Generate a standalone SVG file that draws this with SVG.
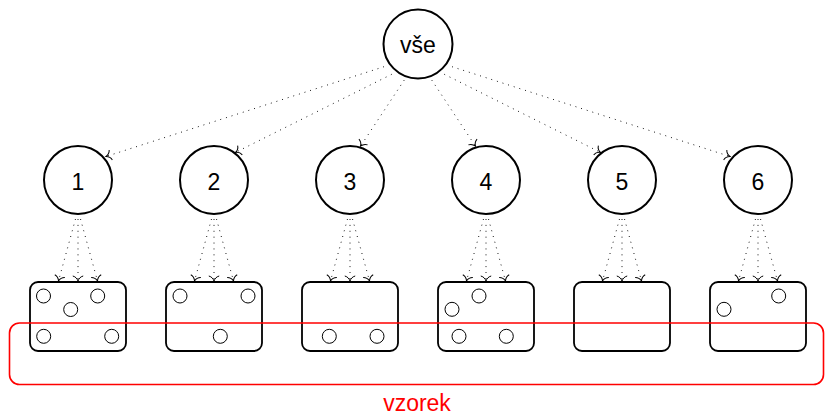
<svg xmlns="http://www.w3.org/2000/svg" width="825" height="416" viewBox="0 0 825 416">
  <defs>
    <marker id="tip" markerUnits="userSpaceOnUse" markerWidth="14" markerHeight="14" viewBox="-7 -7 14 14" refX="0" refY="0" orient="auto" overflow="visible">
      <path d="M -5 -5.2 C -4.3 -2.3 -2.1 -0.7 0 0 C -2.1 0.7 -4.3 2.3 -5 5.2" fill="none" stroke="#000" stroke-width="1"/>
    </marker>
  </defs>
  <style>
    .node { fill: #fff; stroke: #000; stroke-width: 2; }
    .box { fill: #fff; stroke: #000; stroke-width: 1.8; }
    .item { fill: none; stroke: #000; stroke-width: 1; }
    .label { font-family: "Liberation Sans", "DejaVu Sans", sans-serif; font-size: 23px; fill: #000; text-anchor: middle; }
    .edge { fill: none; stroke: #000; stroke-width: 1; stroke-dasharray: 0.9 5; marker-end: url(#tip); }
    .sample { fill: none; stroke: #ff0000; stroke-width: 1.6; }
    .sample-label { font-family: "Liberation Sans", "DejaVu Sans", sans-serif; font-size: 23px; fill: #ff0000; text-anchor: middle; }
  </style>

  <!-- connectors -->
  <g id="connectors">
    <!-- root to groups -->
    <line class="edge" x1="384" y1="66.7" x2="106" y2="156.5"/>
    <line class="edge" x1="391.7" y1="74.3" x2="235.5" y2="152.4"/>
    <line class="edge" x1="404.3" y1="80" x2="360.5" y2="146.2"/>
    <line class="edge" x1="431.7" y1="80" x2="475.5" y2="146.2"/>
    <line class="edge" x1="444.3" y1="74.3" x2="600.5" y2="152.4"/>
    <line class="edge" x1="452" y1="66.7" x2="730" y2="156.5"/>
    <!-- groups to boxes -->
    <g id="fan-1">
      <line class="edge" x1="75.5" y1="219" x2="58.5" y2="281"/>
      <line class="edge" x1="78" y1="219" x2="78" y2="281"/>
      <line class="edge" x1="80.5" y1="219" x2="97.5" y2="281"/>
    </g>
    <g id="fan-2">
      <line class="edge" x1="211.5" y1="219" x2="194.5" y2="281"/>
      <line class="edge" x1="214" y1="219" x2="214" y2="281"/>
      <line class="edge" x1="216.5" y1="219" x2="233.5" y2="281"/>
    </g>
    <g id="fan-3">
      <line class="edge" x1="347.5" y1="219" x2="330.5" y2="281"/>
      <line class="edge" x1="350" y1="219" x2="350" y2="281"/>
      <line class="edge" x1="352.5" y1="219" x2="369.5" y2="281"/>
    </g>
    <g id="fan-4">
      <line class="edge" x1="483.5" y1="219" x2="466.5" y2="281"/>
      <line class="edge" x1="486" y1="219" x2="486" y2="281"/>
      <line class="edge" x1="488.5" y1="219" x2="505.5" y2="281"/>
    </g>
    <g id="fan-5">
      <line class="edge" x1="619.5" y1="219" x2="602.5" y2="281"/>
      <line class="edge" x1="622" y1="219" x2="622" y2="281"/>
      <line class="edge" x1="624.5" y1="219" x2="641.5" y2="281"/>
    </g>
    <g id="fan-6">
      <line class="edge" x1="755.5" y1="219" x2="738.5" y2="281"/>
      <line class="edge" x1="758" y1="219" x2="758" y2="281"/>
      <line class="edge" x1="760.5" y1="219" x2="777.5" y2="281"/>
    </g>
  </g>

  <!-- root -->
  <g id="root">
    <circle class="node" cx="418" cy="44" r="34.5"/>
    <text class="label" x="418" y="53">vše</text>
  </g>

  <!-- groups -->
  <g id="group-1">
    <circle class="node" cx="78" cy="180" r="34"/>
    <text class="label" x="78" y="190">1</text>
  </g>
  <g id="group-2">
    <circle class="node" cx="214" cy="180" r="34"/>
    <text class="label" x="214" y="190">2</text>
  </g>
  <g id="group-3">
    <circle class="node" cx="350" cy="180" r="34"/>
    <text class="label" x="350" y="190">3</text>
  </g>
  <g id="group-4">
    <circle class="node" cx="486" cy="180" r="34"/>
    <text class="label" x="486" y="190">4</text>
  </g>
  <g id="group-5">
    <circle class="node" cx="622" cy="180" r="34"/>
    <text class="label" x="622" y="190">5</text>
  </g>
  <g id="group-6">
    <circle class="node" cx="758" cy="180" r="34"/>
    <text class="label" x="758" y="190">6</text>
  </g>

  <!-- boxes with their items -->
  <g id="box-1">
    <rect class="box" x="30" y="282" width="96" height="69" rx="8"/>
    <circle class="item" cx="43.5" cy="296" r="7"/>
    <circle class="item" cx="97.7" cy="296" r="7"/>
    <circle class="item" cx="70.7" cy="309.5" r="7"/>
    <circle class="item" cx="43.7" cy="336.3" r="7"/>
    <circle class="item" cx="111.7" cy="336.3" r="7"/>
  </g>
  <g id="box-2">
    <rect class="box" x="166" y="282" width="96" height="69" rx="8"/>
    <circle class="item" cx="180" cy="296" r="7"/>
    <circle class="item" cx="248" cy="296" r="7"/>
    <circle class="item" cx="220.3" cy="336.3" r="7"/>
  </g>
  <g id="box-3">
    <rect class="box" x="302" y="282" width="96" height="69" rx="8"/>
    <circle class="item" cx="329.3" cy="336.3" r="7"/>
    <circle class="item" cx="377" cy="336.3" r="7"/>
  </g>
  <g id="box-4">
    <rect class="box" x="438" y="282" width="96" height="69" rx="8"/>
    <circle class="item" cx="479" cy="296" r="7"/>
    <circle class="item" cx="452" cy="309.3" r="7"/>
    <circle class="item" cx="459" cy="336.3" r="7"/>
    <circle class="item" cx="506.3" cy="336.3" r="7"/>
  </g>
  <g id="box-5">
    <rect class="box" x="574" y="282" width="96" height="69" rx="8"/>
  </g>
  <g id="box-6">
    <rect class="box" x="710" y="282" width="96" height="69" rx="8"/>
    <circle class="item" cx="778.7" cy="296" r="7"/>
    <circle class="item" cx="724" cy="309.3" r="7"/>
  </g>

  <!-- sample outline -->
  <g id="sample">
    <rect class="sample" x="9.5" y="323" width="814" height="61.5" rx="10"/>
    <text class="sample-label" x="417" y="410.5">vzorek</text>
  </g>
</svg>
